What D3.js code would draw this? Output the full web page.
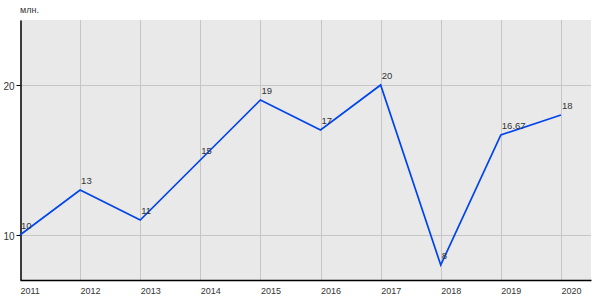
<!DOCTYPE html>
<html>
<head>
<meta charset="utf-8">
<script src="https://cdn.jsdelivr.net/npm/d3@7"></script>
<style>
  body { margin: 0; background: #fff; }
  svg text { font-family: "Liberation Sans", Arial, sans-serif; fill: #333; }
</style>
</head>
<body>
<div id="chart"></div>
<script>
const years = [2011, 2012, 2013, 2014, 2015, 2016, 2017, 2018, 2019, 2020];
const values = [10, 13, 11, 15, 19, 17, 20, 8, 16.67, 18];
const valueLabels = ["10", "13", "11", "15", "19", "17", "20", "8", "16.67", "18"];
const yTicks = [10, 20];
const unitLabel = "млн.";

const W = 600, H = 300;
const margin = { top: 20, right: 9, bottom: 20, left: 20 };
const width = W - margin.left - margin.right;
const height = H - margin.top - margin.bottom;

const svg = d3.select("#chart")
  .append("svg")
  .attr("width", W)
  .attr("height", H)
  .append("g")
  .attr("transform", `translate(${margin.left},${margin.top})`);

// x: one slot of 60px per year, last year leaves a bit of room
const x = d3.scaleLinear()
  .domain([2011, 2020.5])
  .range([0, width]);

const y = d3.scaleLinear()
  .domain([7, 24.333])
  .range([height, 0]);

// background
svg.append("rect")
  .attr("width", width)
  .attr("height", height)
  .attr("fill", "#e9e9e9");

// vertical gridlines
svg.selectAll(".xGrid")
  .data(years.slice(1))
  .join("line")
  .attr("x1", d => Math.round(x(d)) + 0.5)
  .attr("x2", d => Math.round(x(d)) + 0.5)
  .attr("y1", 0)
  .attr("y2", height)
  .attr("stroke", "#c6c6c6")
  .attr("stroke-width", 1);

// horizontal gridlines
svg.selectAll(".yGrid")
  .data(yTicks)
  .join("line")
  .attr("x1", 0)
  .attr("x2", width)
  .attr("y1", d => Math.round(y(d)) + 0.5)
  .attr("y2", d => Math.round(y(d)) + 0.5)
  .attr("stroke", "#c6c6c6")
  .attr("stroke-width", 1);

// y axis
const yAxis = d3.axisLeft(y)
  .tickValues(yTicks)
  .tickSize(4)
  .tickPadding(2)
  .tickSizeOuter(0);

svg.append("g")
  .attr("transform", "translate(0.5,0)")
  .call(yAxis)
  .call(g => g.select(".domain").attr("stroke", "#000").attr("stroke-width", 1.5))
  .call(g => g.selectAll(".tick line").attr("stroke", "#000"))
  .selectAll(".tick text")
  .attr("font-size", 10)
  .style("font-family", "'Liberation Sans', Arial, sans-serif")
  .attr("fill", "#333")
  .attr("dy", "0.45em");

// x axis
const xAxis = d3.axisBottom(x)
  .tickValues(years)
  .tickFormat(d3.format("d"))
  .tickSize(0)
  .tickPadding(8)
  .tickSizeOuter(0);

svg.append("g")
  .attr("transform", `translate(0,${height})`)
  .call(xAxis)
  .call(g => g.select(".domain").attr("stroke", "#000").attr("stroke-width", 1.5))
  .selectAll(".tick text")
  .attr("font-size", 9)
  .style("font-family", "'Liberation Sans', Arial, sans-serif")
  .attr("fill", "#333")
  .attr("text-anchor", "start");

// unit label
svg.append("text")
  .attr("x", 0)
  .attr("y", -7)
  .attr("font-size", 9)
  .text(unitLabel);

// line
const line = d3.line()
  .x((d, i) => x(years[i]))
  .y(d => y(d));

svg.append("path")
  .datum(values)
  .attr("fill", "none")
  .attr("stroke", "#0044ee")
  .attr("stroke-width", 1.7)
  .attr("d", line);

// value labels
svg.selectAll(".vlabel")
  .data(values)
  .join("text")
  .attr("x", (d, i) => x(years[i]) + 1)
  .attr("y", d => y(d) - 6)
  .attr("font-size", 9.5)
  .text((d, i) => valueLabels[i]);
</script>
</body>
</html>
